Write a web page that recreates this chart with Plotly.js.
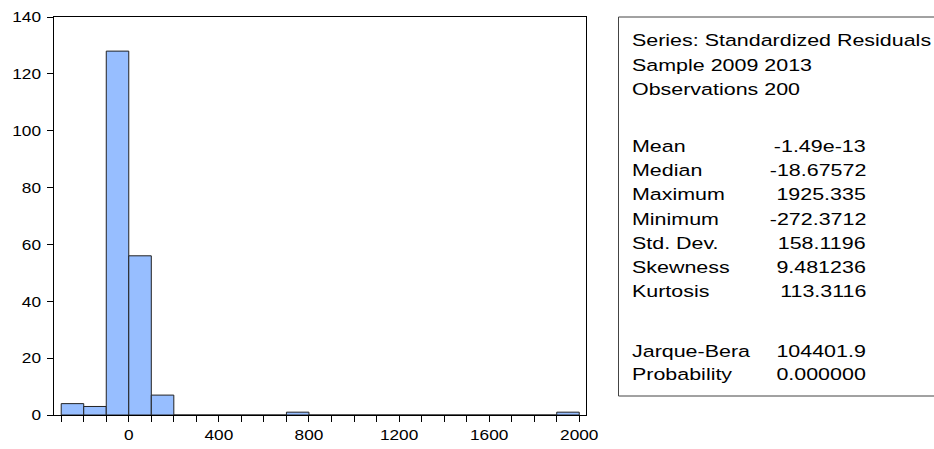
<!DOCTYPE html>
<html>
<head>
<meta charset="utf-8">
<script src="https://cdn.plot.ly/plotly-3.0.1.min.js"></script>
<style>
  html, body { margin: 0; padding: 0; background: #fff; }
  #chart { width: 934px; height: 449px; }
</style>
</head>
<body>
<div id="chart"></div>
<script>
// ---- data ----
const binStart = [-300,-200,-100,0,100,200,300,400,500,600,700,800,900,1000,1100,1200,1300,1400,1500,1600,1700,1800,1900];
const binCounts = [4,3,128,56,7,0,0,0,0,0,1,0,0,0,0,0,0,0,0,0,0,0,1];
const binWidth = 100;

const headerLines = ["Series: Standardized Residuals", "Sample 2009 2013", "Observations 200"];
const statNames = ["Mean", "Median", "Maximum", "Minimum", "Std. Dev.", "Skewness", "Kurtosis"];
const statValues = ["-1.49e-13", "-18.67572", "1925.335", "-272.3712", "158.1196", "9.481236", "113.3116"];
const testNames = ["Jarque-Bera", "Probability"];
const testValues = ["104401.9", "0.000000"];

// ---- layout helpers (pixel -> paper) ----
const W = 934, H = 449;
const M = {l: 54, r: 348, t: 17, b: 34};
const PW = W - M.l - M.r, PH = H - M.t - M.b;
const px = x => (x - M.l) / PW;
const py = y => (H - M.b - y) / PH;

const FONT = 'Liberation Sans, Arial, sans-serif';
const statFont = {family: FONT, size: 16.5, color: '#000'};

const headerTops = [34.3, 58.6, 82.9];
const statTops = [140, 164.2, 188.4, 212.6, 236.8, 261, 285.2];
const testTops = [345, 368.5];
const capHalf = 5.9;
const labelX = 629.5, valueX = 867.5;

const annotations = [];
function addLeft(text, top) {
  annotations.push({xref: 'paper', yref: 'paper', x: px(labelX), y: py(top + capHalf),
    xanchor: 'left', yanchor: 'middle', align: 'left', showarrow: false, text: text, font: statFont});
}
function addRight(text, top) {
  annotations.push({xref: 'paper', yref: 'paper', x: px(valueX), y: py(top + capHalf),
    xanchor: 'right', yanchor: 'middle', align: 'right', showarrow: false, text: text, font: statFont});
}
headerLines.forEach((t, i) => addLeft(t, headerTops[i]));
statNames.forEach((t, i) => { addLeft(t, statTops[i]); addRight(statValues[i], statTops[i]); });
testNames.forEach((t, i) => { addLeft(t, testTops[i]); addRight(testValues[i], testTops[i]); });

const data = [{
  type: 'bar',
  x: binStart,
  y: binCounts,
  width: binWidth,
  offset: 0,
  marker: {color: 'rgb(151,190,255)', line: {color: '#222', width: 1}},
  hoverinfo: 'none'
}];

const tickFont = {family: FONT, size: 15, color: '#000'};

const layout = {
  width: W, height: H,
  margin: M,
  paper_bgcolor: '#fff', plot_bgcolor: '#fff',
  showlegend: false,
  bargap: 0,
  xaxis: {
    range: [-332, 2030],
    tick0: 0, dtick: 400,
    ticks: 'outside', ticklen: 6, tickwidth: 1, tickcolor: '#000',
    minor: {tick0: 0, dtick: 100, ticks: 'outside', ticklen: 6, tickwidth: 1, tickcolor: '#000', showgrid: false},
    showgrid: false, zeroline: false,
    showline: true, mirror: true, linecolor: '#000', linewidth: 1,
    tickfont: tickFont
  },
  yaxis: {
    range: [0, 140],
    tick0: 0, dtick: 20,
    ticks: 'outside', ticklen: 6, tickwidth: 1, tickcolor: '#000',
    ticklabelstandoff: 3,
    showgrid: false, zeroline: false,
    showline: true, mirror: true, linecolor: '#000', linewidth: 1,
    tickfont: tickFont
  },
  shapes: [{
    type: 'rect', xref: 'paper', yref: 'paper',
    x0: px(618.5), x1: px(945), y0: py(396), y1: py(17),
    line: {color: '#444', width: 1}, fillcolor: 'rgba(0,0,0,0)'
  }],
  annotations: annotations
};

function stretch(nodes, sx) {
  nodes.forEach(t => {
    const bb = t.getBBox();
    const anchor = t.getAttribute('text-anchor') || 'start';
    let ax = bb.x;
    if (anchor === 'end') ax = bb.x + bb.width;
    else if (anchor === 'middle') ax = bb.x + bb.width / 2;
    const prev = t.getAttribute('transform');
    const add = 'translate(' + (ax * (1 - sx)) + ',0) scale(' + sx + ',1)';
    t.setAttribute('transform', (prev ? prev + ' ' : '') + add);
  });
}

Plotly.newPlot('chart', data, layout, {staticPlot: true, displayModeBar: false}).then(gd => {
  stretch(Array.from(gd.querySelectorAll('.annotation-text')), 1.3);
  stretch(Array.from(gd.querySelectorAll('.xtick text, .ytick text')), 1.15);
});
</script>
</body>
</html>
